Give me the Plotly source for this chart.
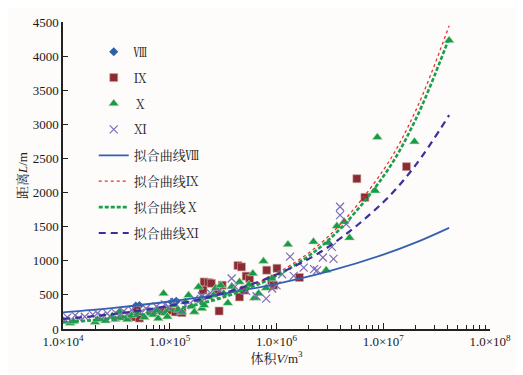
import plotly.graph_objects as go

# ---- scatter data ----
V_8 = [4.8e4, 5.2e4, 1.05e5, 1.15e5, 2.0e5, 4.8e5]
L_8 = [335, 345, 396, 405, 450, 570]

V_9 = [4.5e4, 4.8e4, 5.2e4, 4.9e4, 8.5e4, 9.7e4, 1.13e5, 1.3e5, 2.1e5, 2.3e5,
       2.45e5, 2.05e5, 2.8e5, 2.9e5, 3.1e5, 4.35e5, 4.7e5, 4.5e5, 5.2e5, 5.6e5,
       5.0e5, 8.1e5, 9.0e5, 9.4e5, 1.01e6, 1.64e6, 5.66e6, 6.73e6, 1.65e7]
L_9 = [186, 176, 160, 270, 265, 275, 250, 240, 690, 680,
       670, 570, 568, 264, 642, 930, 910, 470, 775, 740,
       570, 862, 715, 642, 890, 755, 2203, 1930, 2380]

V_10 = [1.17e4, 1.25e4, 2.0e4, 2.1e4, 2.5e4, 2.9e4, 3.1e4, 3.4e4, 3.6e4, 4.0e4,
        4.4e4, 5.0e4, 5.8e4, 6.5e4, 7.0e4, 7.6e4, 7.8e4, 8.75e4, 9.0e4, 9.5e4,
        1.0e5, 1.1e5, 1.2e5, 1.3e5, 1.4e5, 1.5e5, 1.6e5, 1.7e5, 1.86e5, 1.9e5,
        2.0e5, 2.1e5, 2.3e5, 2.57e5, 2.7e5, 3.0e5, 3.2e5, 3.5e5, 3.8e5, 4.0e5,
        4.5e5, 5.5e5, 6.0e5, 6.2e5, 6.8e5, 7.55e5, 8.0e5, 9.0e5, 1.28e6, 2.22e6,
        2.92e6, 3.07e6, 3.68e6, 4.3e6, 4.83e6, 8.4e6, 8.8e6, 1.96e7, 4.14e7]
L_10 = [85, 110, 100, 140, 120, 190, 140, 250, 160, 138,
        200, 230, 170, 260, 210, 275, 153, 520, 230, 180,
        300, 350, 280, 250, 400, 495, 330, 250, 617, 420,
        300, 348, 470, 495, 600, 640, 520, 380, 620, 560,
        690, 650, 813, 455, 520, 994, 600, 740, 1239, 1278,
        862, 1263, 1508, 1571, 1336, 2026, 2810, 2746, 4230]

V_11 = [1.05e4, 1.1e4, 1.3e4, 1.4e4, 1.6e4, 1.9e4, 2.1e4, 2.3e4, 2.6e4, 2.8e4,
        3.1e4, 3.4e4, 3.7e4, 4.0e4, 4.4e4, 5.3e4, 6.0e4, 6.8e4, 7.5e4, 8.2e4,
        9.0e4, 1.0e5, 1.1e5, 1.25e5, 1.4e5, 1.7e5, 2.0e5, 2.4e5, 2.9e5, 3.8e5,
        4.1e5, 5.2e5, 6.5e5, 8.0e5, 9.1e5, 1.0e6, 1.13e6, 1.34e6, 1.45e6, 1.8e6,
        2.25e6, 2.4e6, 2.72e6, 3.3e6, 3.42e6, 3.94e6, 3.94e6, 4.5e6]
L_11 = [140, 170, 200, 160, 180, 210, 230, 190, 230, 170,
        240, 200, 260, 220, 280, 240, 300, 260, 330, 280,
        360, 310, 390, 270, 350, 440, 480, 530, 560, 740,
        620, 560, 480, 446, 593, 640, 803, 1060, 778, 900,
        877, 860, 1048, 1204, 1028, 1792, 1670, 1537]

# ---- fitted curves ----
fit_V = [1e4, 3e4, 1e5, 3e5, 1e6, 3e6, 1e7, 2e7, 4.14e7]
fit_8 = [245, 311, 403, 511, 662, 840, 1089, 1265, 1483]
fit_9 = [100, 165, 285, 470, 815, 1344, 2327, 3190, 4445]
fit_10 = [96, 158, 274, 452, 782, 1290, 2234, 3063, 4265]
fit_11 = [147, 220, 342, 513, 798, 1194, 1859, 2398, 3134]

names_pts = ["Ⅷ", "Ⅸ", "Ⅹ", "Ⅺ"]
names_fit = ["拟合曲线Ⅷ", "拟合曲线Ⅸ", "拟合曲线Ⅹ", "拟合曲线Ⅺ"]

x_tickvals = [1e4, 1e5, 1e6, 1e7, 1e8]
x_ticktext = ["1.0×10<sup>4</sup>", "1.0×10<sup>5</sup>", "1.0×10<sup>6</sup>",
              "1.0×10<sup>7</sup>", "1.0×10<sup>8</sup>"]
minor_vals = [m * 10 ** e for e in range(4, 8) for m in range(2, 10)]

c_blue = "#2f5fa8"
c_red = "#8c2b33"
c_green = "#169c47"
c_purple = "#7d6db6"

fig = go.Figure()
fig.add_trace(go.Scatter(x=V_8, y=L_8, mode="markers", name=names_pts[0], legendgroup="a",
                         marker=dict(symbol="diamond", size=7, color=c_blue)))
fig.add_trace(go.Scatter(x=V_9, y=L_9, mode="markers", name=names_pts[1], legendgroup="b",
                         marker=dict(symbol="square", size=8, color=c_red,
                                     line=dict(color="#c9a9a0", width=0.6))))
fig.add_trace(go.Scatter(x=V_10, y=L_10, mode="markers", name=names_pts[2], legendgroup="c",
                         marker=dict(symbol="triangle-up", size=9, color=c_green,
                                     line=dict(color="#cfe3c0", width=0.6))))
fig.add_trace(go.Scatter(x=V_11, y=L_11, mode="markers", name=names_pts[3], legendgroup="d",
                         marker=dict(symbol="x-thin", size=8, color=c_purple,
                                     line=dict(color=c_purple, width=1.2))))
fig.add_trace(go.Scatter(x=fit_V, y=fit_8, mode="lines", name=names_fit[0], legendgroup="e",
                         line=dict(color="#3560b0", width=1.8, shape="spline")))
fig.add_trace(go.Scatter(x=fit_V, y=fit_9, mode="lines", name=names_fit[1], legendgroup="f",
                         line=dict(color="#e8302c", width=1.3, dash="dot", shape="spline")))
fig.add_trace(go.Scatter(x=fit_V, y=fit_10, mode="lines", name=names_fit[2], legendgroup="g",
                         line=dict(color="#1aa04b", width=2.6, dash="4px,2px", shape="spline")))
fig.add_trace(go.Scatter(x=fit_V, y=fit_11, mode="lines", name=names_fit[3], legendgroup="h",
                         line=dict(color="#3a2f9c", width=2.2, dash="7px,5px", shape="spline")))

base_font = "Times New Roman, Liberation Serif, Noto Serif CJK SC, Noto Sans CJK SC, serif"

# the page body adds an 8 px offset, so the figure is 8 px smaller on each side
fig.update_layout(
    width=515, height=367,
    margin=dict(l=55, r=33, t=14, b=46, autoexpand=False),
    paper_bgcolor="#fdfcfa",
    plot_bgcolor="#fdfcfa",
    font=dict(family=base_font, size=13, color="#1a1a1a"),
    showlegend=True,
    legend=dict(x=0.072, y=0.952, xanchor="left", yanchor="top",
                bgcolor="rgba(0,0,0,0)", tracegroupgap=6,
                font=dict(size=13, family=base_font, color="#1a1a1a"),
                traceorder="grouped"),
    xaxis=dict(type="log", range=[4, 8], tickvals=x_tickvals, ticktext=x_ticktext,
               automargin=False,
               ticks="inside", ticklen=6, tickwidth=1.2, tickcolor="#222",
               showline=True, linecolor="#222", linewidth=1.5, showgrid=False,
               zeroline=False, tickfont=dict(size=13, family=base_font),
               minor=dict(tickvals=minor_vals, ticks="inside", ticklen=4,
                          tickwidth=1.1, tickcolor="#222", showgrid=False),
               title=dict(text="体积<i>V</i>/m<sup>3</sup>", font=dict(size=13), standoff=0)),
    yaxis=dict(range=[0, 4500], dtick=500, tick0=0, automargin=False,
               ticks="inside", ticklen=5, tickwidth=1.2, tickcolor="#222",
               showline=True, linecolor="#222", linewidth=1.5, showgrid=False,
               zeroline=False, tickfont=dict(size=13, family=base_font),
               title=dict(text="距离<i>L</i>/m", font=dict(size=13), standoff=2)),
)

fig.write_html("out.html")
